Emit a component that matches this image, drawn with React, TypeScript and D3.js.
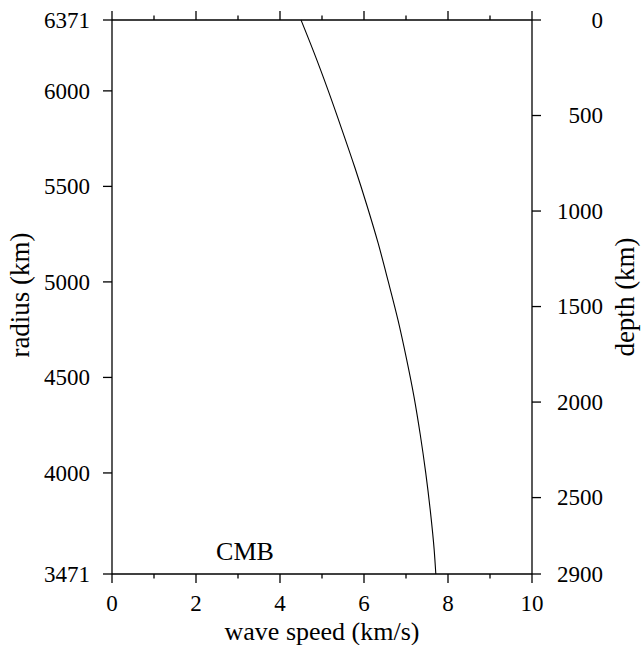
import React from "react";
import * as d3 from "d3";

// Velocity profile through the mantle: radius (km) and wave speed (km/s)
const radiusKm = [6371, 6200, 6000, 5800, 5600, 5400, 5200, 5000, 4800, 4600, 4400, 4200, 4000, 3800, 3600, 3471];
const speedKmS = [4.5, 4.81, 5.15, 5.47, 5.78, 6.07, 6.34, 6.58, 6.81, 7.01, 7.19, 7.34, 7.47, 7.58, 7.67, 7.71];

const radiusTicks = [3471, 4000, 4500, 5000, 5500, 6000, 6371];
const depthTicks = [0, 500, 1000, 1500, 2000, 2500, 2900];
const speedMajorTicks = [0, 2, 4, 6, 8, 10];
const speedMinorTicks = [1, 3, 5, 7, 9];

const EARTH_RADIUS = 6371;
const CMB_RADIUS = 3471;

const W = 642;
const H = 645;
const left = 112;
const right = 532;
const top = 20;
const bottom = 574;

const FONT = "Liberation Serif, Times New Roman, serif";
const TICK_FS = 23;
const TITLE_FS = 26;
const SIDE_TITLE_FS = 27;

export default function App() {
  const x = d3.scaleLinear().domain([0, 10]).range([left, right]);
  const yR = d3.scaleLinear().domain([CMB_RADIUS, EARTH_RADIUS]).range([bottom, top]);
  const yD = d3.scaleLinear().domain([0, EARTH_RADIUS - CMB_RADIUS]).range([top, bottom]);

  const line = d3
    .line<number>()
    .x((_, i) => x(speedKmS[i]))
    .y((r) => yR(r))
    .curve(d3.curveMonotoneY);

  const major = 9;
  const minor = 4.5;
  const sw = 1.3;

  return (
    <svg
      width={W}
      height={H}
      style={{ position: "absolute", left: 0, top: 0, background: "#fff", fontFamily: FONT }}
    >
      {/* frame */}
      <g stroke="#000" strokeWidth={sw} fill="none">
        <line x1={left} y1={top} x2={right} y2={top} />
        <line x1={left} y1={bottom} x2={right} y2={bottom} />
        <line x1={left} y1={top} x2={left} y2={bottom} />
        <line x1={right} y1={top} x2={right} y2={bottom} />
      </g>

      {/* speed ticks, top and bottom */}
      <g stroke="#000" strokeWidth={sw}>
        {speedMajorTicks.map((t) => (
          <g key={"M" + t}>
            <line x1={x(t)} x2={x(t)} y1={top} y2={top - major} />
            <line x1={x(t)} x2={x(t)} y1={bottom} y2={bottom + major} />
          </g>
        ))}
        {speedMinorTicks.map((t) => (
          <g key={"m" + t}>
            <line x1={x(t)} x2={x(t)} y1={top} y2={top - minor} />
            <line x1={x(t)} x2={x(t)} y1={bottom} y2={bottom + minor} />
          </g>
        ))}
      </g>
      {speedMajorTicks.map((t) => (
        <text key={"sl" + t} x={x(t)} y={611} textAnchor="middle" fontSize={TICK_FS}>
          {t}
        </text>
      ))}

      {/* radius axis */}
      {radiusTicks.map((r) => (
        <g key={"r" + r}>
          <line x1={left - major} x2={left} y1={yR(r)} y2={yR(r)} stroke="#000" strokeWidth={sw} />
          <text x={90} y={yR(r)} dy="0.34em" textAnchor="end" fontSize={TICK_FS}>
            {r}
          </text>
        </g>
      ))}

      {/* depth axis */}
      {depthTicks.map((d) => (
        <g key={"d" + d}>
          <line x1={right} x2={right + major} y1={yD(d)} y2={yD(d)} stroke="#000" strokeWidth={sw} />
          <text x={603} y={yD(d)} dy="0.34em" textAnchor="end" fontSize={TICK_FS}>
            {d}
          </text>
        </g>
      ))}

      {/* velocity curve */}
      <path d={line(radiusKm) ?? ""} fill="none" stroke="#000" strokeWidth={1.1} />

      <text x={245} y={560} textAnchor="middle" fontSize={TITLE_FS}>
        CMB
      </text>

      {/* axis titles */}
      <text x={322} y={640} textAnchor="middle" fontSize={TITLE_FS}>
        wave speed (km/s)
      </text>
      <text transform="translate(29,295) rotate(-90)" textAnchor="middle" fontSize={SIDE_TITLE_FS}>
        radius (km)
      </text>
      <text transform="translate(634,297) rotate(-90)" textAnchor="middle" fontSize={SIDE_TITLE_FS}>
        depth (km)
      </text>
    </svg>
  );
}
